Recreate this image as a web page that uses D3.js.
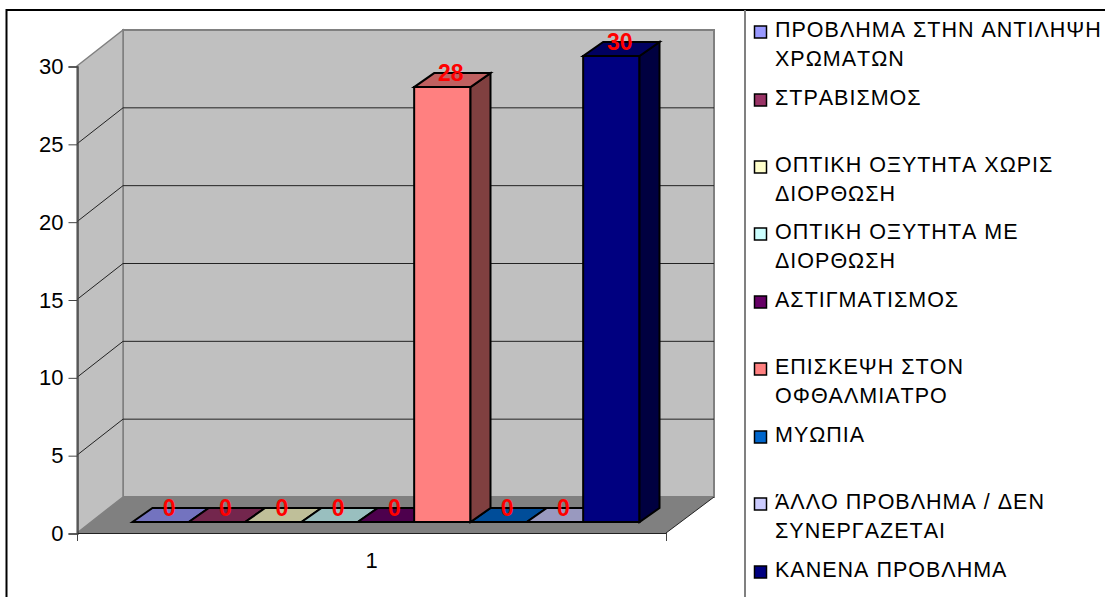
<!DOCTYPE html>
<html>
<head>
<meta charset="utf-8">
<script src="https://cdn.jsdelivr.net/npm/d3@7"></script>
<style>
  html, body { margin: 0; padding: 0; background: #fff; }
  svg { display: block; }
  text { font-family: "Liberation Sans", Arial, sans-serif; font-kerning: none; }
</style>
</head>
<body>
<div id="wrapper"></div>
<script>
// Data
const categories = [
  "ΠΡΟΒΛΗΜΑ ΣΤΗΝ ΑΝΤΙΛΗΨΗ ΧΡΩΜΑΤΩΝ",
  "ΣΤΡΑΒΙΣΜΟΣ",
  "ΟΠΤΙΚΗ ΟΞΥΤΗΤΑ ΧΩΡΙΣ ΔΙΟΡΘΩΣΗ",
  "ΟΠΤΙΚΗ ΟΞΥΤΗΤΑ ΜΕ ΔΙΟΡΘΩΣΗ",
  "ΑΣΤΙΓΜΑΤΙΣΜΟΣ",
  "ΕΠΙΣΚΕΨΗ ΣΤΟΝ ΟΦΘΑΛΜΙΑΤΡΟ",
  "ΜΥΩΠΙΑ",
  "ΆΛΛΟ ΠΡΟΒΛΗΜΑ / ΔΕΝ ΣΥΝΕΡΓΑΖΕΤΑΙ",
  "ΚΑΝΕΝΑ ΠΡΟΒΛΗΜΑ",
];
const legendLines = [
  ["ΠΡΟΒΛΗΜΑ ΣΤΗΝ ΑΝΤΙΛΗΨΗ", "ΧΡΩΜΑΤΩΝ"],
  ["ΣΤΡΑΒΙΣΜΟΣ"],
  ["ΟΠΤΙΚΗ ΟΞΥΤΗΤΑ ΧΩΡΙΣ", "ΔΙΟΡΘΩΣΗ"],
  ["ΟΠΤΙΚΗ ΟΞΥΤΗΤΑ ΜΕ", "ΔΙΟΡΘΩΣΗ"],
  ["ΑΣΤΙΓΜΑΤΙΣΜΟΣ"],
  ["ΕΠΙΣΚΕΨΗ ΣΤΟΝ", "ΟΦΘΑΛΜΙΑΤΡΟ"],
  ["ΜΥΩΠΙΑ"],
  ["ΆΛΛΟ ΠΡΟΒΛΗΜΑ / ΔΕΝ", "ΣΥΝΕΡΓΑΖΕΤΑΙ"],
  ["ΚΑΝΕΝΑ ΠΡΟΒΛΗΜΑ"],
];
const values = [0, 0, 0, 0, 0, 28, 0, 0, 30];
const colors = ["#9999ff", "#993366", "#ffffcc", "#ccffff", "#660066", "#ff8080", "#0066cc", "#ccccff", "#000080"];
const yTicks = [0, 5, 10, 15, 20, 25, 30];
const xLabel = "1";


// Dimensions
const width = 1105;
const height = 597;
const depth = { x: 46, y: -36 };      // wall depth
const barDepth = { x: 20, y: -14 };   // bar depth
const fontSize = 22;

const wrapper = d3.select("#wrapper")
  .append("svg")
    .attr("width", width)
    .attr("height", height);

wrapper.append("rect")
    .attr("x", 6.5)
    .attr("y", 10)
    .attr("width", 1110)
    .attr("height", 600)
    .attr("fill", "#fff")
    .attr("stroke", "#000")
    .attr("stroke-width", 2);

wrapper.append("line")
    .attr("x1", 745)
    .attr("x2", 745)
    .attr("y1", 10)
    .attr("y2", 597)
    .attr("stroke", "#808080")
    .attr("stroke-width", 2);


// Scales
const yAxisScale = d3.scaleLinear().domain([0, 30]).range([533, 66]);
const yBarScale = d3.scaleLinear().domain([0, 30]).range([522, 56]);
const xAxisScale = d3.scalePoint().domain([0, 1]).range([77, 666]);
const xBarScale = d3.scaleBand()
  .domain(d3.range(categories.length))
  .range([132.5, 639.5]);

const pts = arr => arr.map(d => d.join(",")).join(" ");
const shade = (color, k) => {
  const c = d3.rgb(color);
  return d3.rgb(c.r * k, c.g * k, c.b * k).formatHex();
};


// Walls and floor
const left = xAxisScale(0);
const right = xAxisScale(1);
const bottom = yAxisScale(0);
const top_ = yAxisScale(30);

const walls = wrapper.append("g");
walls.append("polygon")
    .attr("points", pts([[left + depth.x, top_ + depth.y], [right + depth.x + 2, top_ + depth.y], [right + depth.x + 2, bottom + depth.y], [left + depth.x, bottom + depth.y]]))
    .attr("fill", "#c0c0c0")
    .attr("stroke", "#808080")
    .attr("stroke-width", 2);
walls.append("polygon")
    .attr("points", pts([[left, top_], [left + depth.x, top_ + depth.y], [left + depth.x, bottom + depth.y], [left, bottom]]))
    .attr("fill", "#c0c0c0")
    .attr("stroke", "#808080")
    .attr("stroke-width", 1.5);
walls.append("polygon")
    .attr("points", pts([[left, bottom], [left + depth.x, bottom + depth.y], [right + depth.x + 2, bottom + depth.y], [right, bottom]]))
    .attr("fill", "#808080");


// Gridlines
const grid = wrapper.append("g");
grid.selectAll(".grid")
  .data(yTicks.filter(d => d > 0 && d < 30))
  .join("polyline")
    .attr("class", "grid")
    .attr("points", d => pts([
      [left, yAxisScale(d)],
      [left + depth.x, yAxisScale(d) + depth.y],
      [right + depth.x + 2, yAxisScale(d) + depth.y],
    ]))
    .attr("fill", "none")
    .attr("stroke", "#222")
    .attr("stroke-width", 1);


// Axes
const axisGroup = wrapper.append("g")
    .attr("transform", `translate(${left + 0.5}, 0.5)`)
    .call(d3.axisLeft(yAxisScale).tickValues(yTicks).tickSize(9).tickPadding(5));
axisGroup.select(".domain").attr("stroke", "#444").attr("stroke-width", 1.5);
axisGroup.selectAll("line").attr("stroke", "#444");
axisGroup.selectAll("text")
    .attr("font-size", fontSize)
    .attr("font-family", '"Liberation Sans", Arial, sans-serif')
    .attr("fill", "#000");

wrapper.append("line")
    .attr("x1", left).attr("x2", right)
    .attr("y1", bottom + 0.5).attr("y2", bottom + 0.5)
    .attr("stroke", "#222");
wrapper.selectAll(".x-tick")
  .data([left, right])
  .join("line")
    .attr("class", "x-tick")
    .attr("x1", d => d + 0.5).attr("x2", d => d + 0.5)
    .attr("y1", bottom).attr("y2", bottom + 8)
    .attr("stroke", "#444");
wrapper.append("line")
    .attr("x1", right).attr("x2", right + depth.x + 2)
    .attr("y1", bottom).attr("y2", bottom + depth.y)
    .attr("stroke", "#222");
wrapper.append("text")
    .attr("x", (left + right) / 2)
    .attr("y", 568)
    .attr("text-anchor", "middle")
    .attr("font-size", fontSize)
    .text(xLabel);


// Bars
const bars = wrapper.append("g")
    .attr("stroke", "#000")
    .attr("stroke-width", 2)
    .attr("stroke-linejoin", "miter");

const barData = categories.map((name, i) => ({ name, value: values[i], color: colors[i], i }));

const barGroups = bars.selectAll("g")
  .data(barData)
  .join("g");

barGroups.append("polygon")   // front
    .attr("points", d => {
      const x0 = xBarScale(d.i), x1 = x0 + xBarScale.bandwidth();
      return pts([[x0, yBarScale(d.value)], [x1, yBarScale(d.value)], [x1, yBarScale(0)], [x0, yBarScale(0)]]);
    })
    .attr("fill", d => d.color);
barGroups.append("polygon")   // side
    .attr("points", d => {
      const x1 = xBarScale(d.i) + xBarScale.bandwidth();
      return pts([
        [x1, yBarScale(d.value)],
        [x1 + barDepth.x, yBarScale(d.value) + barDepth.y],
        [x1 + barDepth.x, yBarScale(0) + barDepth.y],
        [x1, yBarScale(0)],
      ]);
    })
    .attr("fill", d => shade(d.color, 0.5));
barGroups.append("polygon")   // top
    .attr("points", d => {
      const x0 = xBarScale(d.i), x1 = x0 + xBarScale.bandwidth();
      const y = yBarScale(d.value);
      return pts([[x0, y], [x1, y], [x1 + barDepth.x, y + barDepth.y], [x0 + barDepth.x, y + barDepth.y]]);
    })
    .attr("fill", d => shade(d.color, 0.75));

// Draw the zero-height bars first, then the tall ones on top of them.
barGroups.filter(d => d.value > 0).raise();

wrapper.append("g").selectAll("text")
  .data(barData)
  .join("text")
    .attr("x", d => xBarScale(d.i) + xBarScale.bandwidth() / 2 + 8.5)
    .attr("y", d => yBarScale(d.value) - 6.5)
    .attr("text-anchor", "middle")
    .attr("font-size", 23)
    .attr("font-weight", "bold")
    .attr("fill", "#ff0000")
    .text(d => d.value);


// Legend
const legendY = [37, 105, 172, 239, 307, 374, 442, 509, 577];
const legend = wrapper.append("g").selectAll("g")
  .data(barData)
  .join("g");
legend.append("rect")
    .attr("x", 754.5)
    .attr("y", d => legendY[d.i] - 11)
    .attr("width", 12)
    .attr("height", 12)
    .attr("fill", d => d.color)
    .attr("stroke", "#000")
    .attr("stroke-width", 1.5);
legend.each(function(d) {
  d3.select(this).selectAll("text")
    .data(legendLines[d.i])
    .join("text")
      .attr("x", 775)
      .attr("y", (_l, j) => legendY[d.i] + j * 29)
      .attr("font-size", 21.5)
      .attr("letter-spacing", 1)
      .attr("fill", "#000")
      .text(l => l);
});
</script>
</body>
</html>
